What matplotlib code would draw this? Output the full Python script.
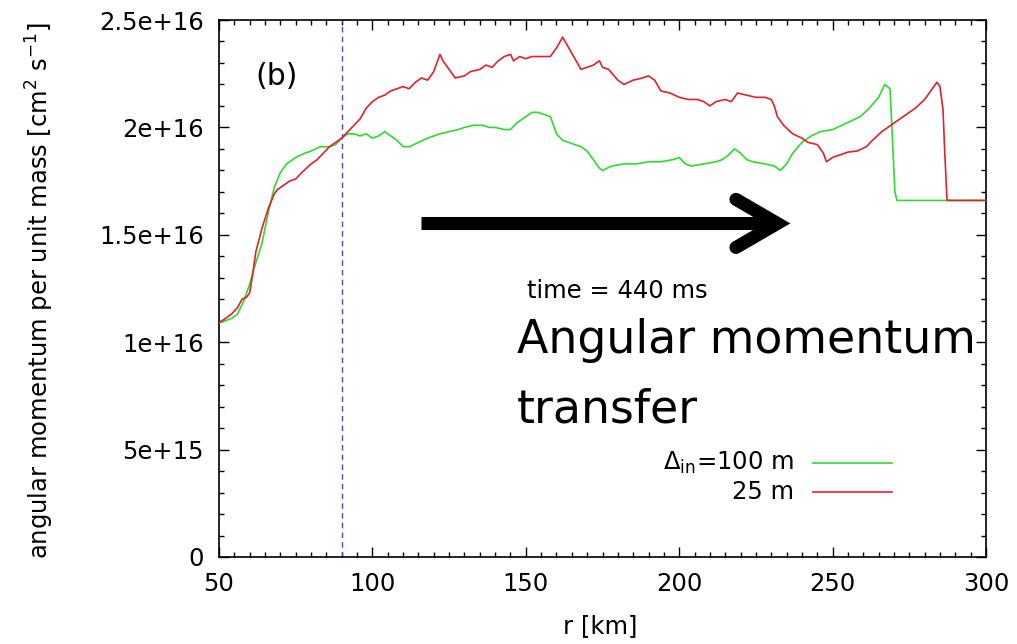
import matplotlib
matplotlib.use("Agg")
import matplotlib.pyplot as plt
from matplotlib.ticker import MultipleLocator, FixedLocator, FixedFormatter

# ---- data (radius in km, specific angular momentum in 1e16 cm^2 s^-1) ----
r_100m = [50, 52, 54, 56, 58, 60, 62, 64, 66, 68, 70, 72, 75, 78, 80, 83, 86, 88,
          90, 92, 94, 96, 98, 100, 102, 104, 105, 106, 108, 110, 112, 115, 118,
          120, 122, 125, 128, 130, 133, 136, 138, 140, 143, 145, 147, 150, 152,
          154, 156, 158, 160, 162, 164, 166, 168, 170, 172, 174, 175, 178, 182,
          186, 190, 194, 198, 200, 202, 204, 208, 212, 214, 216, 218, 220, 222,
          224, 228, 231, 233, 235, 237, 240, 243, 246, 250, 253, 256, 259, 262,
          265, 267, 268.7, 269.5, 270.3, 271, 280, 290, 300]
j_100m = [1.09, 1.10, 1.11, 1.13, 1.19, 1.27, 1.37, 1.46, 1.60, 1.72, 1.79, 1.83,
          1.86, 1.88, 1.89, 1.91, 1.91, 1.92, 1.95, 1.97, 1.97, 1.96, 1.97, 1.95,
          1.96, 1.98, 1.97, 1.96, 1.94, 1.91, 1.91, 1.93, 1.95, 1.96, 1.97, 1.98,
          1.99, 2.00, 2.01, 2.01, 2.00, 2.00, 1.99, 1.99, 2.02, 2.05, 2.07, 2.07,
          2.06, 2.05, 1.97, 1.94, 1.93, 1.92, 1.91, 1.89, 1.85, 1.81, 1.80, 1.82,
          1.83, 1.83, 1.84, 1.84, 1.85, 1.86, 1.83, 1.82, 1.83, 1.84, 1.85, 1.87,
          1.90, 1.88, 1.85, 1.84, 1.83, 1.82, 1.80, 1.83, 1.88, 1.93, 1.96, 1.98,
          1.99, 2.01, 2.03, 2.05, 2.09, 2.14, 2.20, 2.18, 1.95, 1.70, 1.66, 1.66,
          1.66, 1.66]

r_25m = [50, 52, 54, 56, 57.5, 59, 60, 61, 62, 64, 66, 68, 69, 71, 73, 75, 77, 80,
         82, 84, 86, 88, 90, 92, 94, 96, 98, 100, 102, 104, 106, 108, 110, 112,
         114, 116, 118, 120, 122, 123, 125, 127, 130, 132, 135, 137, 139, 141,
         143, 145, 146, 148, 150, 152, 155, 158, 160, 162, 164, 166, 168, 170,
         172, 174, 175, 177, 180, 182, 185, 188, 190, 192, 194, 197, 200, 203,
         206, 208, 210, 212, 215, 217, 219, 222, 225, 228, 230, 231, 232, 234,
         237, 240, 242, 245, 247, 248, 250, 252, 255, 258, 261, 263, 266, 270,
         274, 277, 280, 282, 284, 285, 286, 286.5, 287.3, 300]
j_25m = [1.09, 1.11, 1.13, 1.16, 1.20, 1.21, 1.23, 1.32, 1.42, 1.53, 1.62, 1.69,
         1.71, 1.73, 1.75, 1.76, 1.79, 1.83, 1.85, 1.88, 1.91, 1.93, 1.95, 1.98,
         2.01, 2.04, 2.09, 2.12, 2.14, 2.15, 2.17, 2.18, 2.19, 2.18, 2.21, 2.23,
         2.22, 2.26, 2.34, 2.31, 2.27, 2.23, 2.24, 2.26, 2.27, 2.29, 2.28, 2.31,
         2.33, 2.34, 2.31, 2.33, 2.32, 2.33, 2.33, 2.33, 2.37, 2.42, 2.37, 2.32,
         2.27, 2.28, 2.29, 2.31, 2.28, 2.27, 2.22, 2.20, 2.22, 2.23, 2.24, 2.22,
         2.17, 2.16, 2.14, 2.13, 2.13, 2.12, 2.10, 2.12, 2.13, 2.12, 2.16, 2.15,
         2.14, 2.14, 2.13, 2.10, 2.05, 2.01, 1.97, 1.95, 1.93, 1.92, 1.88, 1.84,
         1.86, 1.87, 1.885, 1.89, 1.91, 1.94, 1.98, 2.02, 2.06, 2.09, 2.13, 2.17,
         2.21, 2.19, 2.08, 1.90, 1.66, 1.66]

r_marker = 90  # radius of the dashed reference line (km)
y_ticks = [0, 5e15, 1e16, 1.5e16, 2e16, 2.5e16]
y_tick_labels = ["0", "5e+15", "1e+16", "1.5e+16", "2e+16", "2.5e+16"]
x_ticks = [50, 100, 150, 200, 250, 300]
x_tick_labels = ["50", "100", "150", "200", "250", "300"]

SCALE = 1e16
FS = 17.5

plt.rcParams['font.family'] = ['DejaVu Sans']
plt.rcParams['mathtext.fontset'] = 'dejavusans'

fig = plt.figure(figsize=(10.17, 6.44), dpi=100)
ax = fig.add_axes([219 / 1017, 87 / 644, 767 / 1017, 537 / 644])

green = '#2edc2e'
red = '#e3202c'

ax.plot(r_100m, [v * SCALE for v in j_100m], color=green, lw=1.2, zorder=3)
ax.plot(r_25m, [v * SCALE for v in j_25m], color=red, lw=1.2, zorder=4)
ax.axvline(r_marker, color='#4a4ad0', lw=1.0, ls=(0, (4, 3)), zorder=2)

ax.set_xlim(50, 300)
ax.set_ylim(0, 2.5e16)

ax.xaxis.set_major_locator(FixedLocator(x_ticks))
ax.xaxis.set_major_formatter(FixedFormatter(x_tick_labels))
ax.yaxis.set_major_locator(FixedLocator(y_ticks))
ax.yaxis.set_major_formatter(FixedFormatter(y_tick_labels))
ax.xaxis.set_minor_locator(MultipleLocator(5))
ax.yaxis.set_minor_locator(MultipleLocator(1e15))
ax.tick_params(which='both', direction='in', top=True, right=True, width=1.0,
               colors='black', labelsize=FS)
ax.tick_params(which='major', length=7)
ax.tick_params(which='minor', length=3.5)
ax.tick_params(axis='y', which='major', pad=11)
ax.tick_params(axis='x', which='major', pad=11)
for s in ax.spines.values():
    s.set_linewidth(1.2)

ax.set_xlabel('r [km]', fontsize=FS)
ax.set_ylabel(r'angular momentum per unit mass [cm$^2$ s$^{-1}$]', fontsize=FS)
ax.xaxis.set_label_coords(0.497, -0.106)
ax.yaxis.set_label_coords(-0.212, 0.497)

# panel tag and annotations
ax.text(61.7, 2.235e16, '(b)', fontsize=21.5, ha='left', va='center')
ax.text(150.4, 1.206e16, 'time = 440 ms', fontsize=FS, ha='left', va='baseline')
ax.text(147.1, 0.950e16, 'Angular momentum', fontsize=33, ha='left', va='baseline')
ax.text(147.1, 0.628e16, 'transfer', fontsize=33, ha='left', va='baseline')

# thick arrow: shaft + open chevron head
y_arrow = 1.553e16
ax.plot([115.8, 229.0], [y_arrow, y_arrow], color='black', lw=9.4,
        solid_capstyle='butt', zorder=5)
ax.plot([218.5, 232.0, 218.5], [1.665e16, y_arrow, 1.441e16], color='black',
        lw=9.4, solid_capstyle='round', solid_joinstyle='miter', zorder=5)

# key
ax.text(237.3, 0.4376e16, r'$\Delta_{\rm in}$=100 m', fontsize=FS,
        ha='right', va='center')
ax.text(237.3, 0.3026e16, '25 m', fontsize=FS, ha='right', va='center')
ax.plot([243.6, 269.4], [0.4376e16, 0.4376e16], color=green, lw=1.2)
ax.plot([243.6, 269.4], [0.3026e16, 0.3026e16], color=red, lw=1.2)

fig.savefig('out.png', dpi=100)
